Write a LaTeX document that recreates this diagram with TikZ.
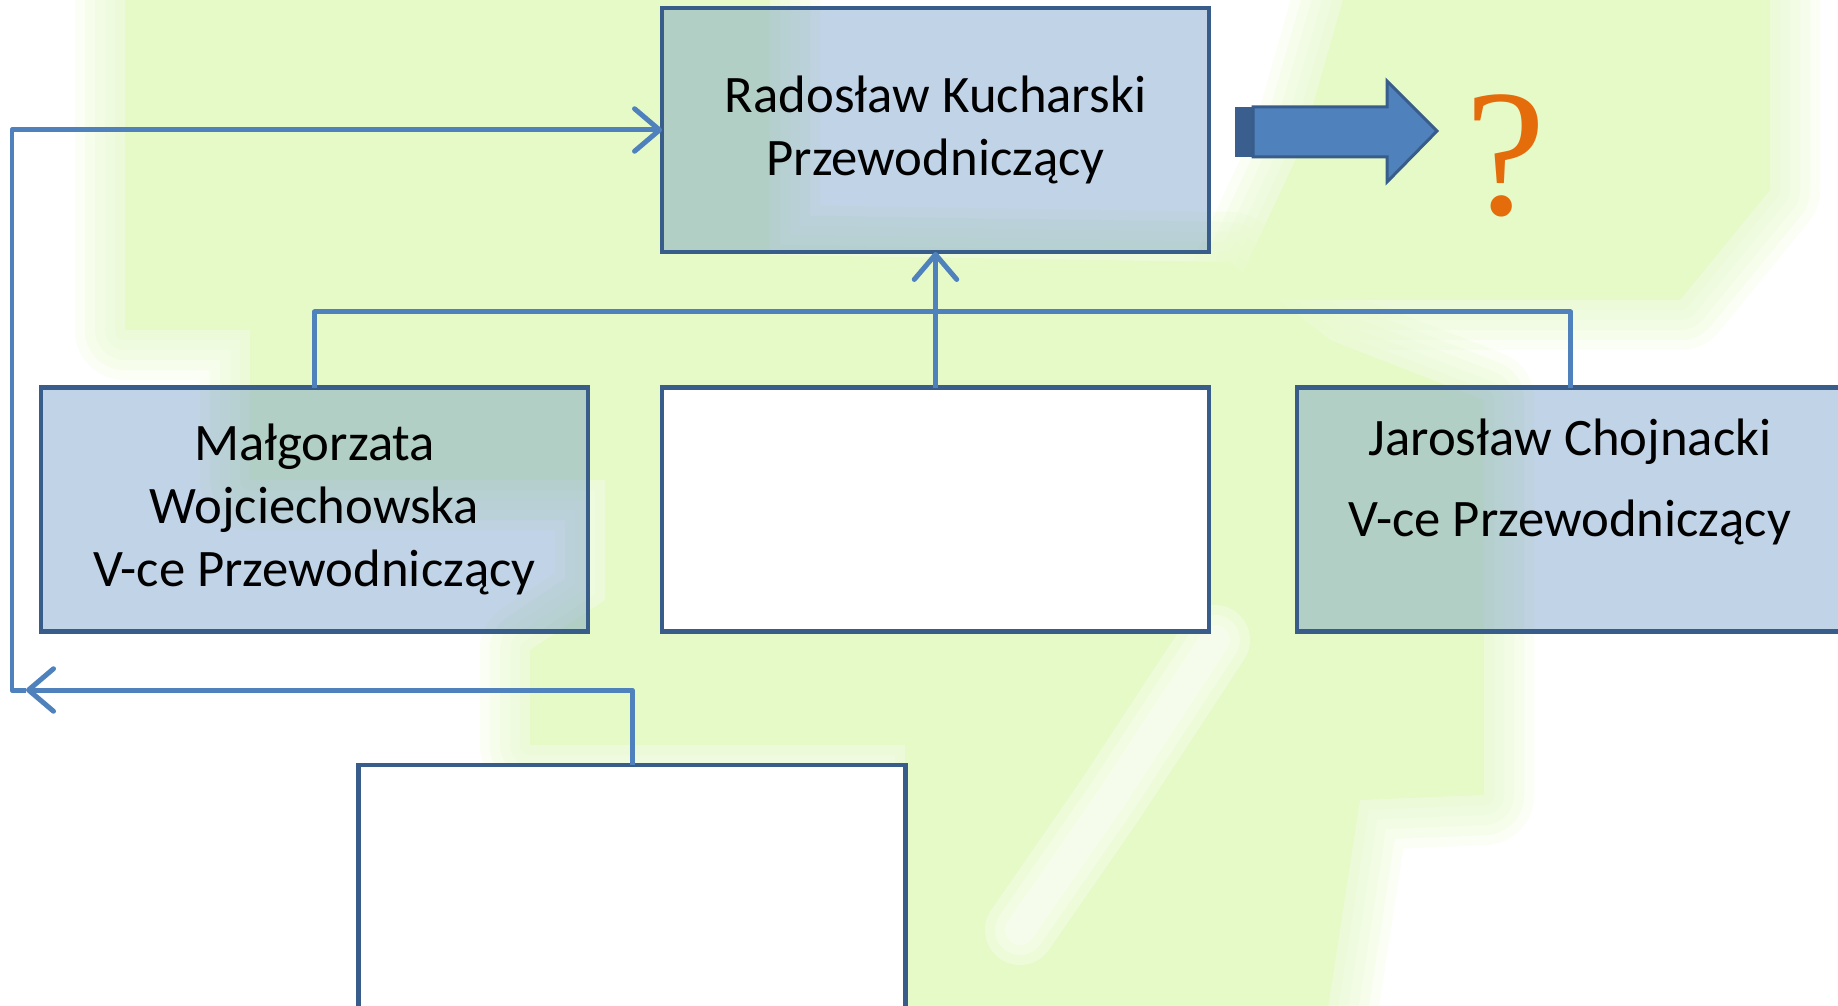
\documentclass[tikz,border=0pt]{standalone}
\usepackage{fontspec}
\setmainfont{Carlito}
\newfontfamily\qfont{Liberation Serif}
\usetikzlibrary{arrows.meta}
\definecolor{bgreen}{HTML}{E6FAC8}
\definecolor{boxline}{HTML}{385D8A}
\definecolor{conncol}{HTML}{4F81BD}
\definecolor{qorange}{HTML}{E46C0A}
\definecolor{arrdark}{HTML}{3A5F8F}
\newcommand\greenA{(125,-60) -- (770,-60) -- (770,255) -- (1230,262) -- (1330,340) -- (1484,400) -- (1484,795) -- (1360,800) -- (1320,1060) -- (905,1060) -- (905,745) -- (530,745) -- (530,650) -- (605,600) -- (605,480) -- (250,480) -- (250,330) -- (125,330) -- cycle}
\newcommand\greenB{(1360,-60) -- (1770,-60) -- (1770,190) -- (1680,300) -- (1230,300) -- (1300,150) -- cycle}
\begin{document}
\begin{tikzpicture}[x=0.02cm,y=-0.02cm,
  box/.style={draw=boxline,line width=0.09cm,minimum width=10.94cm,minimum height=4.88cm,inner sep=0,outer sep=0,align=center,font=\fontsize{30}{36}\selectfont},
  bluebox/.style={box,fill=conncol,fill opacity=0.35,text opacity=1},
  whitebox/.style={box,fill=white},
  conn/.style={draw=conncol,line width=0.1cm,line join=round},
  tip/.style={-{Straight Barb[length=0.5cm,width=0.85cm,round]}},
  soft/.style={draw=bgreen,line join=round,opacity=0.2}]
\useasboundingbox (0,0) rectangle (1838,1006);
\begin{scope}
\clip (0,0) rectangle (1838,1006);
\fill[white] (0,0) rectangle (1838,1006);
\foreach \w in {100,80,60,40,20} {
  \path[soft,line width=\w*0.02cm] \greenA;
  \path[soft,line width=\w*0.02cm] \greenB;
}
\fill[bgreen] \greenA;
\fill[bgreen] \greenB;
\foreach \w in {70,50,30} {
  \draw[white,opacity=0.3,line width=\w*0.02cm,line cap=round] (1215,640) -- (1110,800) -- (1020,930);
}

\node[bluebox] (t) at (935.5,130) {Radosław Kucharski\\Przewodniczący};
\node[bluebox] (l) at (314.5,509.5) {Małgorzata\\Wojciechowska\\V-ce Przewodniczący};
\node[whitebox] (m) at (935.5,509.5) {};
\node[bluebox] (r) at (1570.5,509.5) {};
\node[align=center,font=\fontsize{30}{46}\selectfont,inner sep=0] (rt) at (1570,482) {Jarosław Chojnacki\\V-ce Przewodniczący};
\node[whitebox] (b) at (632,887) {};

\coordinate (bus) at (935.5,312);
\draw[conn] (l.north) |- (bus) -| (r.north);
\draw[conn,tip] (m.north) -- (t.south);
\coordinate (la) at (26,690);
\coordinate (lc) at (12,690);
\draw[conn,tip] (b.north) |- (la);
\draw[conn,tip] (la) -- (lc) |- (t.west);

\fill[arrdark] (1235,107) rectangle (1253,157);
\filldraw[fill=conncol,draw=boxline,line width=0.06cm] (1253,107) -- (1387,107) -- (1387,81) -- (1437,131) -- (1387,182) -- (1387,157) -- (1253,157) -- cycle;
\node[anchor=base,text=qorange,font=\qfont\fontsize{103}{110}\selectfont,inner sep=0] (q) at (1506,215) {?};
\end{scope}
\end{tikzpicture}
\end{document}
